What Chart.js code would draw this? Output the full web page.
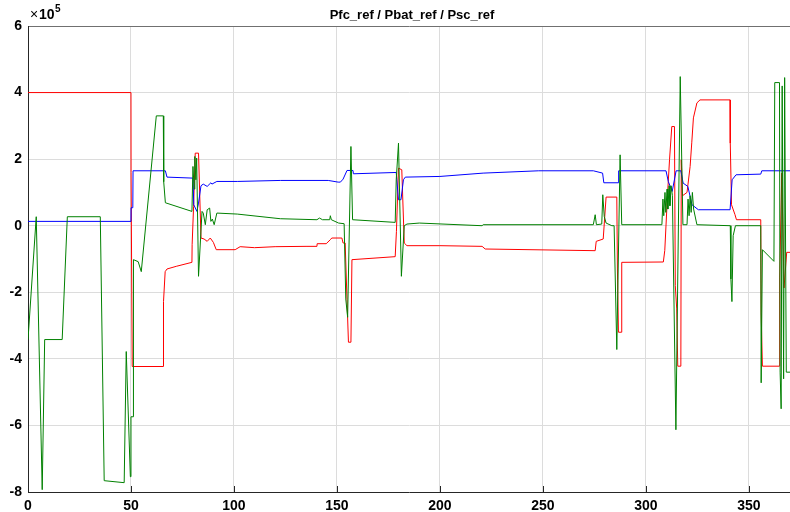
<!DOCTYPE html>
<html>
<head>
<meta charset="utf-8">
<script src="https://cdn.jsdelivr.net/npm/chart.js@4.4.1/dist/chart.umd.min.js"></script>
<style>
  html, body { margin: 0; padding: 0; background: #ffffff; }
  #wrap { width: 790px; height: 512px; }
</style>
</head>
<body>
<div id="wrap"><canvas id="c" width="790" height="512"></canvas></div>
<script>
// Reference power set-points, values in units of 1e5 W, time in s
const TITLE = 'Pfc_ref / Pbat_ref / Psc_ref';
const X_TICKS = [0, 50, 100, 150, 200, 250, 300, 350];
const Y_TICKS = [-8, -6, -4, -2, 0, 2, 4, 6];

// Pfc_ref (red)
const tFc = [0, 50, 50.05, 50.6, 65.7, 65.8, 66.6, 67.5, 72, 79.6, 79.7, 80.4, 81.2, 82.8, 84.0, 85.5, 87.0, 88.5, 90.0, 91.4,
  100.6, 103, 110, 120, 135, 140.3, 140.4, 144.8, 146.8, 147.5, 152.4, 153.0, 154.0, 154.9, 155.6, 156.8, 157.3,
  178.3, 178.9, 179.9, 181.5, 182.7, 184, 200, 220.5, 222, 275.4, 275.9, 279.3, 280.7, 285.9, 286.2, 286.7, 288.0, 288.3,
  308.5, 309.2, 310.5, 311.5, 312.6, 313.9, 314.3, 315.0, 315.5, 317.0, 317.2, 317.8, 320.0, 321.5, 322.3, 323.1, 324.8, 326.3,
  340.9, 341.0, 341.6, 343.3, 344.0, 355.8, 356.0, 356.6, 364.9, 365.0, 366.0, 367.1, 368.4, 370];
const pFc = [4.0, 4.0, 1.59, -4.23, -4.23, -2.28, -1.38, -1.30, -1.22, -1.10, -0.57, 0.58, 2.18, 2.18, -0.37, -0.40, -0.47, -0.37, -0.50, -0.72,
  -0.72, -0.63, -0.66, -0.63, -0.62, -0.62, -0.54, -0.54, -0.42, -0.37, -0.37, -0.52, -0.52, -2.22, -3.50, -3.50, -1.02,
  -0.93, -0.17, 1.73, 1.68, -0.52, -0.60, -0.60, -0.62, -0.70, -0.75, -0.47, -0.40, 0.86, 0.86, -1.30, -3.20, -3.20, -1.10,
  -1.09, -0.74, 0.90, 1.98, 2.98, 2.98, -1.80, -2.50, -4.22, -4.22, 1.98, 0.90, 1.00, 1.78, 2.49, 3.24, 3.69, 3.78,
  3.78, 2.48, 0.63, 0.33, 0.18, 0.18, -2.62, -4.22, -4.22, -1.57, 1.58, -1.87, -0.80, -0.80];

// Pbat_ref (blue)
const tBat = [0, 50, 50.05, 50.9, 51.0, 66.7, 67.5, 80.1, 80.5, 82.0, 82.8, 84.0, 85.1, 87.0, 88.8, 89.3, 91.7,
  101.6, 122.5, 145.8, 150.6, 151.7, 153.0, 154.9, 157.8, 158.0, 178.8, 179.9, 181.1, 182.3, 183.2, 200, 221, 248,
  274.5, 279.0, 279.6, 286.5, 286.8, 309.8, 310.9, 312.8, 314.7, 317.0, 318.1, 320.4, 321.5, 322.4, 325.5,
  340.9, 341.9, 343.8, 355.8, 356.3, 370];
const pBat = [0.13, 0.13, 0.54, 0.54, 1.65, 1.65, 1.46, 1.43, 0.63, 0.43, 0.68, 1.20, 1.25, 1.18, 1.29, 1.25, 1.33,
  1.33, 1.36, 1.36, 1.31, 1.31, 1.40, 1.66, 1.66, 1.56, 1.60, 0.78, 0.78, 1.38, 1.46, 1.48, 1.58, 1.65,
  1.65, 1.58, 1.29, 1.29, 1.65, 1.65, 1.33, 1.03, 1.65, 1.65, 1.28, 1.18, 0.88, 0.63, 0.48,
  0.48, 1.38, 1.53, 1.55, 1.65, 1.65];

// Psc_ref (green)
const tSc = [0, 4.0, 6.9, 8.1, 16.6, 19.1, 35.1, 37.0, 46.7, 47.7, 49.7, 50.0, 51.1, 51.2, 53.5, 55.0, 62.3, 65.7, 65.9, 66.7,
  79.6, 80.1, 80.7, 81.0, 81.5, 81.9, 82.8, 84.5, 85.1, 86.1, 87.0, 88.2, 88.8, 89.5, 90.4, 91.7,
  101.6, 122.5, 140.3, 141.5, 143.0, 146.5, 146.8, 147.3, 150.8, 153.5, 154.3, 155.2, 156.8, 157.6,
  178.3, 178.8, 179.9, 181.3, 182.7, 184, 190, 220.5, 221, 274.5, 275.4, 276.0, 278.6, 279.1, 279.8, 280.7, 283.5, 284.6,
  285.9, 287.5, 288.3, 307.8, 308.3, 308.7, 309.3, 309.7, 310.3, 310.7, 311.3, 311.7, 312.3, 312.9, 314.6, 316.7, 318.0,
  320.0, 320.5, 321.0, 321.5, 322.0, 322.6, 323.2, 324.8, 341.0, 341.3, 341.8, 342.4, 343.5, 355.8, 356.0, 356.6,
  362.2, 362.6, 364.9, 365.2, 365.7, 366.2, 366.9, 367.4, 368.2, 370];
const pSc = [-3.42, 0.27, -7.93, -3.42, -3.42, 0.27, 0.27, -7.66, -7.72, -3.78, -7.54, -5.74, -5.74, -1.02, -1.08, -1.38, 3.30, 3.30, 1.32, 0.69,
  0.43, 1.78, 1.10, 2.08, 1.38, 2.03, -1.52, 0.43, 0.38, 0.03, 0.48, 0.53, 0.13, 0.20, 0.03, 0.38,
  0.35, 0.21, 0.18, 0.23, 0.18, 0.18, 0.30, 0.18, 0.08, 0.06, -2.20, -2.75, 2.38, 0.18,
  0.10, 1.38, 2.48, -1.52, 0.00, 0.05, 0.08, 0.00, 0.03, 0.03, 0.33, 0.03, 0.05, 0.93, 0.28, 0.08, 0.00, 0.00,
  -3.72, 2.13, 0.03, 0.03, 0.80, 0.30, 1.00, 0.40, 1.10, 0.50, 1.20, 0.60, 1.20, 0.90, -6.13, 4.48, 0.03,
  0.03, 0.80, 0.30, 0.90, 0.40, 1.00, 0.50, 0.03, 0.00, -1.60, -2.28, -0.30, 0.00, 0.00, -4.72, -0.72,
  -1.07, 4.30, 4.30, -4.40, -5.50, 4.20, -4.60, 4.45, -4.40, -4.40];

const toPoints = (ts, vs) => ts.map((t, i) => ({ x: t, y: vs[i] }));

const FONT = '"Liberation Sans", Arial, Helvetica, sans-serif';
const GRID = '#dcdcdc';
const AXIS = '#262626';

// Title, exponent label and inward tick marks
const decorations = {
  id: 'decorations',
  afterDraw(chart) {
    const { ctx, chartArea, scales } = chart;
    ctx.save();
    ctx.fillStyle = '#000';
    ctx.font = 'bold 13px ' + FONT;
    ctx.textAlign = 'center';
    ctx.textBaseline = 'alphabetic';
    ctx.fillText(TITLE, (chartArea.left + chartArea.right) / 2 + 3, 19);

    ctx.textAlign = 'left';
    ctx.font = '14px ' + FONT;
    ctx.fillText('\u00d7', 30, 19);
    ctx.font = 'bold 14px ' + FONT;
    ctx.fillText('10', 39, 19);
    ctx.font = 'bold 10px ' + FONT;
    ctx.fillText('5', 55, 12);

    ctx.strokeStyle = AXIS;
    ctx.lineWidth = 1;
    ctx.beginPath();
    X_TICKS.forEach(v => {
      const px = Math.round(scales.x.getPixelForValue(v)) + 0.5;
      ctx.moveTo(px, chartArea.bottom);
      ctx.lineTo(px, chartArea.bottom - 6);
    });
    ctx.stroke();
    ctx.restore();
  }
};

new Chart(document.getElementById('c'), {
  type: 'scatter',
  data: {
    datasets: [
      { label: 'Pfc_ref', data: toPoints(tFc, pFc), borderColor: '#ff0000', order: 3 },
      { label: 'Pbat_ref', data: toPoints(tBat, pBat), borderColor: '#0000ff', order: 2 },
      { label: 'Psc_ref', data: toPoints(tSc, pSc), borderColor: '#008000', order: 1 }
    ].map(d => Object.assign(d, {
      showLine: true, pointRadius: 0, borderWidth: 1, tension: 0, fill: false
    }))
  },
  options: {
    responsive: false,
    animation: false,
    devicePixelRatio: 1,
    layout: { padding: { top: 26, right: 0, left: 0, bottom: 0 } },
    plugins: { legend: { display: false }, tooltip: { enabled: false }, title: { display: false } },
    scales: {
      x: {
        type: 'linear', min: 0, max: 370,
        afterBuildTicks: s => { s.ticks = X_TICKS.map(v => ({ value: v })); },
        ticks: { color: '#000', font: { family: FONT, size: 14, weight: 'bold' }, padding: 6, maxRotation: 0 },
        grid: { color: GRID, drawTicks: false, lineWidth: 1 },
        border: { color: AXIS, width: 1 },
        afterFit: s => { s.height = 20; }
      },
      y: {
        type: 'linear', min: -8, max: 6,
        afterBuildTicks: s => { s.ticks = Y_TICKS.map(v => ({ value: v })); },
        ticks: { color: '#000', font: { family: FONT, size: 14, weight: 'bold' }, padding: 6 },
        grid: { color: c => (c.tick && c.tick.value === 6 ? '#707070' : GRID), drawTicks: false, lineWidth: 1 },
        border: { color: AXIS, width: 1 },
        afterFit: s => { s.width = 28; }
      }
    }
  },
  plugins: [decorations]
});
</script>
</body>
</html>
